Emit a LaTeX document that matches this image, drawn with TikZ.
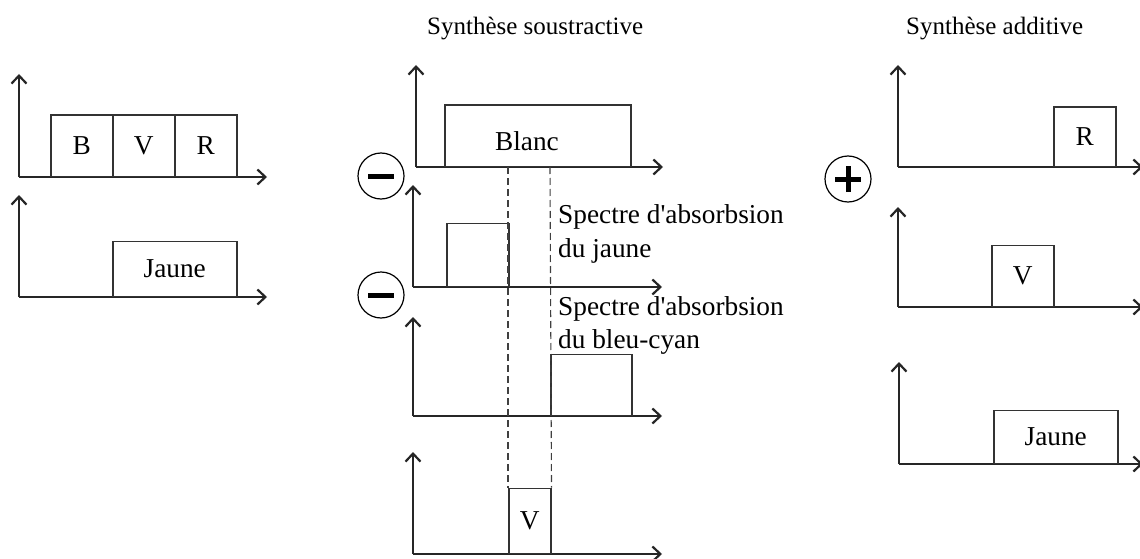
\documentclass[tikz,border=0pt]{standalone}
\usepackage{fontspec}
\setmainfont{Liberation Serif}[Ligatures=TeXOff]
\usetikzlibrary{arrows.meta}
\begin{document}
\begin{tikzpicture}[x=1pt,y=-1pt,
  axis/.style={draw=black!85, line width=1.5pt, -{Straight Barb[length=8pt,width=15pt,line width=2.2pt]}},
  bx/.style={draw=black!80, line width=1.5pt, inner sep=0pt, anchor=south west, font=\fontsize{27.3}{32}\selectfont},
  lbl/.style={inner sep=0pt, anchor=base west, font=\fontsize{27.3}{32}\selectfont},
  ttl/.style={inner sep=0pt, anchor=base west, font=\fontsize{25}{30}\selectfont},
  sgn/.style={draw=black, line width=1.2pt, circle, minimum size=46pt, inner sep=0pt},
  bar/.style={line width=5pt},
  guide/.style={draw=black!75, line width=1.1pt, dash pattern=on 7pt off 4pt}]
\useasboundingbox (0,0) rectangle (1140,559);
% left panels
\coordinate (oa) at (19,177);
\coordinate (ob) at (19,297);
\draw[axis] (oa) -- (19,74);
\draw[axis] (oa) -- (267,177);
\draw[axis] (ob) -- (19,195);
\draw[axis] (ob) -- (267,297);
\node[bx, minimum width=62pt, minimum height=61pt] (bB) at (50,177) {B};
\node[bx, minimum width=62pt, minimum height=61pt] (bV) at (112,177) {V};
\node[bx, minimum width=62pt, minimum height=61pt] (bR) at (174,177) {R};
\node[bx, minimum width=124pt, minimum height=55pt] (bJ) at (112,297) {Jaune};
% titles
\node[ttl] (t1) at (427,35) {Synthèse soustractive};
\node[ttl] (t2) at (906,35) {Synthèse additive};
% middle panels
\coordinate (oc) at (416,167);
\coordinate (od) at (413,287);
\coordinate (oe) at (413,416);
\coordinate (of) at (413,554);
\draw[axis] (oc) -- (416,65);
\draw[axis] (oc) -- (663,167);
\draw[axis] (od) -- (413,185);
\draw[axis] (od) -- (662,287);
\draw[axis] (oe) -- (413,317);
\draw[axis] (oe) -- (662,416);
\draw[axis] (of) -- (413,452);
\draw[axis] (of) -- (662,554);
\node[bx, minimum width=186pt, minimum height=61pt] (bW) at (444,167) {};
\node[inner sep=0pt, font=\fontsize{27.3}{32}\selectfont] (tW) at (527,141) {Blanc};
\node[bx, minimum width=62pt, minimum height=63pt] (bAJ) at (446,287) {};
\node[bx, minimum width=81pt, minimum height=61pt] (bAC) at (550,416) {};
\node[bx, minimum width=42pt, minimum height=65pt] (bVr) at (508,554) {V};
\coordinate (g1) at (508,167);
\coordinate (g2) at (550,167);
\draw[guide] (g1) -- (bVr.north west);
\draw[guide] (g2) -- (bVr.north east);
\node[lbl] (s1) at (558,223) {Spectre d'absorbsion};
\node[lbl] (s1b) at (558,257) {du jaune};
\node[lbl] (s2) at (558,315) {Spectre d'absorbsion};
\node[lbl] (s2b) at (558,348) {du bleu-cyan};
\node[sgn] (m1) at (381,176) {};
\draw[bar] ([xshift=-13pt]m1.center) -- ([xshift=13pt]m1.center);
\node[sgn] (m2) at (381,295) {};
\draw[bar] ([xshift=-13pt]m2.center) -- ([xshift=13pt]m2.center);
% right panels
\coordinate (og) at (898,167);
\coordinate (oh) at (898,307);
\coordinate (oi) at (899,464);
\draw[axis] (og) -- (898,65);
\draw[axis] (og) -- (1143,167);
\draw[axis] (oh) -- (898,207);
\draw[axis] (oh) -- (1143,307);
\draw[axis] (oi) -- (899,362);
\draw[axis] (oi) -- (1143,464);
\node[bx, minimum width=62pt, minimum height=59pt] (rR) at (1053,167) {R};
\node[bx, minimum width=62pt, minimum height=61pt] (rV) at (991,307) {V};
\node[bx, minimum width=124pt, minimum height=53pt] (rJ) at (993,464) {Jaune};
\node[sgn] (p1) at (848,179) {};
\draw[bar] ([xshift=-13pt]p1.center) -- ([xshift=13pt]p1.center);
\draw[bar] ([yshift=-13pt]p1.center) -- ([yshift=13pt]p1.center);
\end{tikzpicture}
\end{document}
